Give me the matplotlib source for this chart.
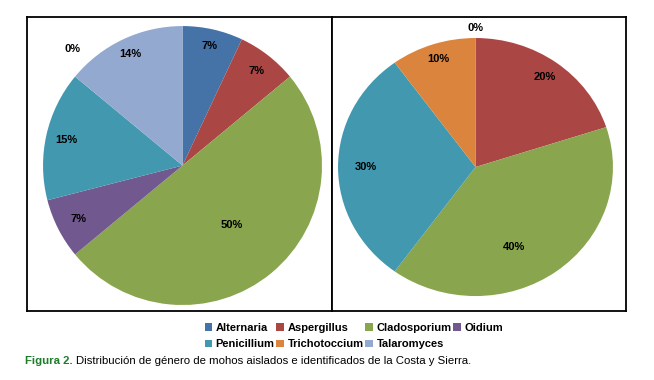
import numpy as np
import matplotlib
matplotlib.use("Agg")
from matplotlib import pyplot as plt
from matplotlib.patches import Patch

# genera in legend order, with Excel 2007 palette
genera = ["Alternaria", "Aspergillus", "Cladosporium", "Oidium",
          "Penicillium", "Trichotoccium", "Talaromyces"]
colors = ["#4572A7", "#AA4643", "#89A54E", "#71588F",
          "#4198AF", "#DB843D", "#93A9CF"]

# percentages read from the labels (None = not present in that pie)
costa = [7, 7, 50, 7, 15, 0, 14]
sierra = [0, 20, 40, None, 30, 10, None]

plt.rcParams["font.family"] = ["Liberation Sans", "DejaVu Sans"]

fig = plt.figure(figsize=(6.54, 3.80), dpi=100)
W, H = 654, 380


def px_axes(x0, y0, x1, y1):
    # axes placed by pixel box (top-left origin)
    return fig.add_axes([x0 / W, 1 - y1 / H, (x1 - x0) / W, (y1 - y0) / H])


def draw_pie(ax, values, dist, nudge, xlim, ylim):
    keep = [i for i, v in enumerate(values) if v is not None]
    vals = [values[i] for i in keep]
    cols = [colors[i] for i in keep]
    wedges, _ = ax.pie(vals, colors=cols, startangle=90, counterclock=False,
                       wedgeprops=dict(linewidth=0))
    for k, (w, v) in enumerate(zip(wedges, vals)):
        i = keep[k]
        ang = np.deg2rad((w.theta1 + w.theta2) / 2 + nudge[i])
        ax.text(dist[i] * np.cos(ang), dist[i] * np.sin(ang), f"{v}%",
                ha="center", va="center", fontsize=8, fontweight="bold")
    ax.set_aspect("auto")
    ax.set_xlim(*xlim)
    ax.set_ylim(*ylim)
    ax.set_xticks([])
    ax.set_yticks([])
    ax.set_frame_on(True)
    for s in ax.spines.values():
        s.set_linewidth(1.3)
        s.set_color("black")


ax1 = px_axes(27, 17, 332, 311)
draw_pie(ax1, costa,
         dist=[0.88, 0.86, 0.55, 0.84, 0.85, 1.15, 0.88],
         nudge=[0, 0, 0, 0, 0, -7, 0],
         xlim=(-1.115, 1.072), ylim=(-1.043, 1.065))

ax2 = px_axes(332, 17, 626, 311)
draw_pie(ax2, sierra,
         dist=[1.08, 0.86, 0.68, 0, 0.80, 0.88, 0],
         nudge=[0, 0, -12, 0, 0, 0, 0],
         xlim=(-1.044, 1.095), ylim=(-1.116, 1.163))

# legend filled column-wise so rows read left to right
order = [0, 4, 1, 5, 2, 6, 3]
handles = [Patch(facecolor=colors[i], label=genera[i]) for i in order]
fig.legend(handles=handles, ncol=4, loc="center", frameon=False,
           bbox_to_anchor=(0.541, 0.115), prop=dict(size=8, weight="bold"),
           handlelength=0.7, handleheight=0.7, handletextpad=0.3,
           columnspacing=0.15, labelspacing=0.55, borderaxespad=0)

cap_font = ["Liberation Sans Narrow", "Liberation Sans", "DejaVu Sans"]
t = fig.text(25 / W, 1 - 361 / H, "Figura 2.", family=cap_font, fontsize=8.2,
             fontweight="bold", color="#1d7d2a", va="center")
fig.canvas.draw()
bb = t.get_window_extent()
fig.text((bb.x1 + 3) / W, 1 - 361 / H,
         "Distribución de género de mohos aislados e identificados de la Costa y Sierra.",
         family=cap_font, fontsize=8.2, color="black", va="center")

fig.savefig("out.png", dpi=100)
